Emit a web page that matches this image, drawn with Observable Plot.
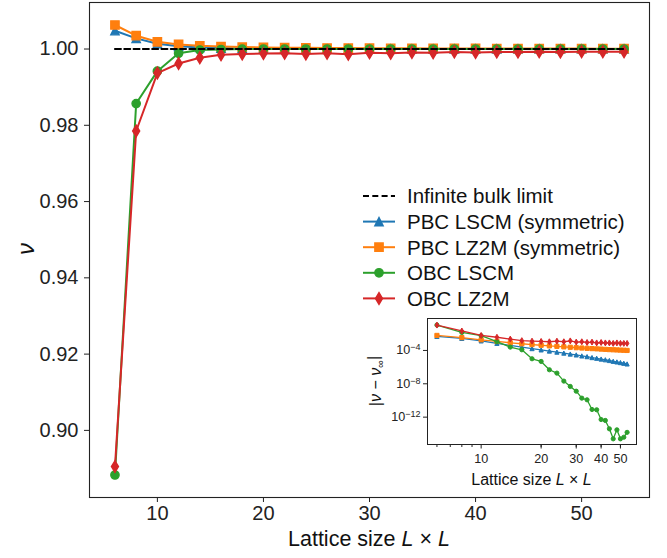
<!DOCTYPE html>
<html><head><meta charset="utf-8">
<script src="https://cdn.jsdelivr.net/npm/d3@7"></script>
<script src="https://cdn.jsdelivr.net/npm/@observablehq/plot@0.6"></script>
<style>
body{margin:0;background:#fff;}
#wrap{position:relative;width:667px;height:558px;font-family:"Liberation Sans",Arial,sans-serif;}
#wrap svg{position:absolute;left:0;top:0;overflow:visible;background:transparent !important;max-width:none !important;}
</style></head><body><div id="wrap"></div>
<script>
// ---- data ----
const sizes = [6,8,10,12,14,16,18,20,22,24,26,28,30,32,34,36,38,40,42,44,46,48,50,52,54];
// |nu - nu_inf| for each series
const devPbcLscm = [4.8e-3,2.8e-3,1.4e-3,7.1e-4,4.0e-4,2.5e-4,1.66e-4,1.17e-4,8.5e-5,6.3e-5,4.8e-5,3.7e-5,2.9e-5,2.2e-5,1.8e-5,1.4e-5,1.15e-5,9.3e-6,7.6e-6,6.2e-6,5.0e-6,4.2e-6,3.5e-6,2.9e-6,2.4e-6];
const devPbcLz2m = [6.3e-3,3.5e-3,1.9e-3,1.2e-3,8.3e-4,6.3e-4,5.0e-4,4.2e-4,3.55e-4,3.1e-4,2.7e-4,2.4e-4,2.14e-4,1.95e-4,1.78e-4,1.66e-4,1.55e-4,1.45e-4,1.35e-4,1.26e-4,1.2e-4,1.15e-4,1.1e-4,1.05e-4,1.0e-4];
const devObcLscm = [0.1117,0.0143,0.0058,1.13e-3,2.5e-4,1.2e-4,1.0e-5,4.8e-6,4.8e-7,1.9e-7,2.1e-8,4.8e-9,1.3e-9,1.9e-10,1.2e-10,8.3e-12,7.6e-12,5.2e-13,4.0e-13,4.0e-14,2.5e-15,3.0e-14,2.5e-15,3.9e-15,1.5e-14];
const devObcLz2m = [0.1095,0.0215,0.0063,0.0038,0.0023,0.0015,0.0013,0.0012,0.0011,0.0013,0.0011,0.0014,0.0010,0.0011,0.0009,0.0010,0.0008,0.0009,0.0008,0.0008,0.0007,0.0008,0.0007,0.0007,0.0007];
const seriesNames = ["PBC LSCM (symmetric)","PBC LZ2M (symmetric)","OBC LSCM","OBC LZ2M"];
const seriesDev = [devPbcLscm, devPbcLz2m, devObcLscm, devObcLz2m];
const seriesSign = [1, 1, -1, -1];   // nu above / below the bulk limit
const nuInf = 1.0;
const limitSizes = [6, 54];
const limitLabel = "Infinite bulk limit";
const yTicks = [0.90,0.92,0.94,0.96,0.98,1.00];
const xTicks = [10,20,30,40,50];
const insetYTicks = [1e-4,1e-8,1e-12];
const insetXLabelTicks = [10,20,30,40,50];
const insetXMinor = [6,7,8,9,20,30,40,50];

// ---- styles ----
const colors = ["#1f77b4","#ff7f0e","#2ca02c","#d62728"];
const symTri = {draw(c,s){const r=Math.sqrt(s/Math.PI);c.moveTo(0,-r);c.lineTo(r,r);c.lineTo(-r,r);c.closePath();}};
const symSq = {draw(c,s){const r=Math.sqrt(s/Math.PI);c.moveTo(-r,-r);c.lineTo(r,-r);c.lineTo(r,r);c.lineTo(-r,r);c.closePath();}};
const symCirc = {draw(c,s){const r=Math.sqrt(s/Math.PI);c.moveTo(r,0);c.arc(0,0,r,0,2*Math.PI);c.closePath();}};
const symDia = {draw(c,s){const r=Math.sqrt(s/Math.PI);const h=r*Math.SQRT2,w=0.6*h;c.moveTo(0,-h);c.lineTo(w,0);c.lineTo(0,h);c.lineTo(-w,0);c.closePath();}};
const symbols = [symTri, symSq, symCirc, symDia];

const rows = seriesNames.map((name,i)=>sizes.map((L,j)=>({name, L, dev: seriesDev[i][j], nu: nuInf + seriesSign[i]*seriesDev[i][j]})));
const limitRows = limitSizes.map(L=>({L, nu: nuInf}));

// ---- main plot ----
const mainMarks = [];
rows.forEach((data,i)=>{
  mainMarks.push(Plot.line(data,{x:"L",y:"nu",stroke:colors[i],strokeWidth:2}));
  mainMarks.push(Plot.dot(data,{x:"L",y:"nu",r:4.15,symbol:symbols[i],fill:colors[i],stroke:colors[i],strokeWidth:1.4}));
});
mainMarks.push(Plot.line(limitRows,{x:"L",y:"nu",stroke:"black",strokeWidth:2,strokeDasharray:"6,3.3"}));
mainMarks.push(Plot.frame({stroke:"#222",strokeWidth:1.1}));

const main = Plot.plot({
  width:667,height:558,marginLeft:89,marginRight:18,marginTop:2,marginBottom:61,
  x:{domain:[3.6,56.4],ticks:xTicks,tickSize:5,tickPadding:3,label:null},
  y:{domain:[0.8824,1.0122],ticks:yTicks,tickFormat:d3.format(".2f"),tickSize:5,tickPadding:6,label:null},
  style:{fontFamily:"'Liberation Sans',Arial,sans-serif",fontSize:"20px",color:"#222",background:"transparent",overflow:"visible"},
  marks:mainMarks
});
document.getElementById("wrap").appendChild(main);
const ms = d3.select(main);
const xl = ms.append("text").attr("x",369).attr("y",546).attr("text-anchor","middle")
  .style("font-size","21.5px").style("white-space","pre").attr("fill","#111");
xl.append("tspan").text("Lattice size ");
xl.append("tspan").style("font-style","italic").text("L");
xl.append("tspan").text(" × ");
xl.append("tspan").style("font-style","italic").text("L");
ms.append("text").attr("transform","translate(26,249) rotate(-90)").attr("text-anchor","middle").attr("dy","0.35em")
  .style("font-size","24px").style("font-style","italic").attr("fill","#111").text("ν");

// legend
const lg = ms.append("g").attr("text-anchor","start");
const legY0 = 196, legDy = 25.6;
const lr0 = lg.append("g").attr("transform",`translate(0,${legY0})`);
lr0.append("line").attr("x1",363).attr("x2",395).attr("stroke","black").attr("stroke-width",2).attr("stroke-dasharray","6,3.3");
lr0.append("text").attr("x",407).attr("dy","0.36em").attr("text-anchor","start").style("font-size","20.5px").attr("fill","#111").text(limitLabel);
seriesNames.forEach((name,i)=>{
  const g = lg.append("g").attr("transform",`translate(0,${legY0+legDy*(i+1)})`);
  g.append("line").attr("x1",363).attr("x2",395).attr("stroke",colors[i]).attr("stroke-width",2);
  g.append("path").attr("transform","translate(379,0)").attr("d",d3.symbol(symbols[i],Math.PI*4.15*4.15)())
    .attr("fill",colors[i]).attr("stroke",colors[i]).attr("stroke-width",1.4);
  g.append("text").attr("x",407).attr("dy","0.36em").attr("text-anchor","start").style("font-size","20.5px").attr("fill","#111").text(name);
});

// ---- inset ----
const insetMarks = [Plot.frame({fill:"white"})];
rows.forEach((data,i)=>{
  insetMarks.push(Plot.line(data,{x:"L",y:"dev",stroke:colors[i],strokeWidth:1.3}));
  insetMarks.push(Plot.dot(data,{x:"L",y:"dev",r:2.1,symbol:symbols[i],fill:colors[i],stroke:colors[i],strokeWidth:1}));
});
insetMarks.push(Plot.axisY({ticks:insetYTicks,tickSize:4,tickPadding:3,tickFormat:d=>"10^"+Math.round(Math.log10(d)),label:null}));
insetMarks.push(Plot.axisX({ticks:insetXMinor,tickSize:3,tickFormat:()=>"",label:null}));
insetMarks.push(Plot.axisX({ticks:insetXLabelTicks,tickSize:4.5,tickPadding:5,tickFormat:d=>String(d),label:null}));
insetMarks.push(Plot.frame({stroke:"#222",strokeWidth:1}));
const inset = Plot.plot({
  width:667,height:558,marginLeft:427,marginRight:31,marginTop:318,marginBottom:114,
  x:{type:"log",domain:[5.38,60.2]},
  y:{type:"log",domain:[Math.pow(10,-15.28),Math.pow(10,-0.17)]},
  style:{fontFamily:"'Liberation Sans',Arial,sans-serif",fontSize:"12.6px",color:"#222",background:"transparent",overflow:"visible"},
  marks:insetMarks
});
document.getElementById("wrap").appendChild(inset);
const is = d3.select(inset);
is.selectAll('g[aria-label="y-axis tick label"] text').each(function(){
  const t = d3.select(this); const s = t.text();
  const m = s.match(/^10\^(-?\d+)$/);
  if(!m) return;
  t.text(null);
  t.append("tspan").text("10");
  t.append("tspan").attr("dy","-0.45em").style("font-size","9px").text(m[1].replace("-","−"));
});
const il = is.append("text").attr("x",531.5).attr("y",485).attr("text-anchor","middle")
  .style("font-size","16px").style("white-space","pre").attr("fill","#111");
il.append("tspan").text("Lattice size ");
il.append("tspan").style("font-style","italic").text("L");
il.append("tspan").text(" × ");
il.append("tspan").style("font-style","italic").text("L");
const iy = is.append("text").attr("transform","translate(375,381) rotate(-90)").attr("text-anchor","middle").attr("dy","0.35em")
  .style("font-size","16px").style("white-space","pre").attr("fill","#111");
iy.append("tspan").text("|");
iy.append("tspan").style("font-style","italic").text("ν");
iy.append("tspan").text(" − ");
iy.append("tspan").style("font-style","italic").text("ν");
iy.append("tspan").attr("dy","0.3em").style("font-size","11px").text("∞");
iy.append("tspan").attr("dy","-0.3em").text("|");
</script></body></html>
